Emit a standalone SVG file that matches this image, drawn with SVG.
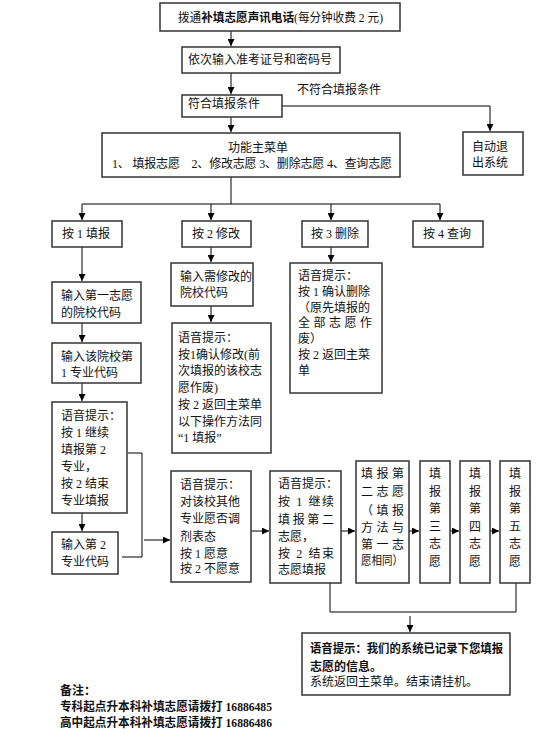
<svg xmlns="http://www.w3.org/2000/svg" width="540" height="739" viewBox="0 0 540 739">
<defs>
<marker id="ah" markerUnits="userSpaceOnUse" markerWidth="7" markerHeight="7" viewBox="0 0 10 10" refX="10" refY="5" orient="auto">
<path d="M0,0 L10,5 L0,10 z" fill="#000"/>
</marker>
<style>
.box{fill:#fff;stroke:#333;stroke-width:1.5}
.t{font-family:"Liberation Serif","Noto Sans CJK SC",serif;font-size:12px;fill:#111}
.b{font-weight:bold}
.m{text-anchor:middle}
.ln{fill:none;stroke:#000;stroke-width:1}
.ar{marker-end:url(#ah)}
</style>
</defs>
<rect width="540" height="739" fill="#fff"/>
<g id="connectors">
<path class="ln ar" d="M231,31 V46"/>
<path class="ln ar" d="M231,73 V94"/>
<path class="ln ar" d="M231,117 V132"/>
<path class="ln ar" d="M282,106 H490 V131"/>
<path class="ln" d="M231,177 V204 M82,204 H440"/>
<path class="ln ar" d="M82,204 V220"/>
<path class="ln ar" d="M211,204 V220"/>
<path class="ln ar" d="M331,204 V220"/>
<path class="ln ar" d="M440,204 V220"/>
<path class="ln ar" d="M82,247 V281"/>
<path class="ln ar" d="M82,323 V342"/>
<path class="ln ar" d="M82,383 V401"/>
<path class="ln ar" d="M82,513 V531"/>
<path class="ln" d="M128,453 H142 V557 H122"/>
<path class="ln ar" d="M144,540 H170"/>
<path class="ln ar" d="M211,247 V262"/>
<path class="ln ar" d="M211,306 V322"/>
<path class="ln ar" d="M331,247 V262"/>
<path class="ln ar" d="M251,531 H269"/>
<path class="ln ar" d="M341,531 H355"/>
<path class="ln ar" d="M409,531 H419"/>
<path class="ln ar" d="M450,531 H459"/>
<path class="ln ar" d="M490,531 H499"/>
<path class="ln" d="M330,583 V612 H516 V583"/>
<path class="ln ar" d="M410,616 V632"/>
<text class="t" x="297" y="94">不符合填报条件</text>
</g>
<g id="n-dial">
<rect class="box" x="160" y="3" width="240" height="28"/>
<text class="t" x="178" y="22" textLength="205" lengthAdjust="spacingAndGlyphs">拨通<tspan class="b">补填志愿声讯电话</tspan>(每分钟收费 2 元)</text>
</g>
<g id="n-input">
<rect class="box" x="182" y="47" width="158" height="26"/>
<text class="t" x="188" y="64">依次输入准考证号和密码号</text>
</g>
<g id="n-ok">
<rect class="box" x="182" y="95" width="100" height="22"/>
<text class="t" x="188" y="108">符合填报条件</text>
</g>
<g id="n-exit">
<rect class="box" x="463" y="132" width="60" height="43"/>
<text class="t" x="472" y="151">自动退</text>
<text class="t" x="472" y="167">出系统</text>
</g>
<g id="n-menu">
<rect class="box" x="102" y="133" width="298" height="44"/>
<text class="t m" x="258" y="152">功能主菜单</text>
<text class="t" x="112" y="168" textLength="280" lengthAdjust="spacing">1、 填报志愿　2、修改志愿 3、删除志愿 4、查询志愿</text>
</g>
<g id="n-k1">
<rect class="box" x="52" y="221" width="70" height="26"/>
<text class="t m" x="86" y="238">按 1 填报</text>
</g>
<g id="n-k2">
<rect class="box" x="182" y="221" width="69" height="26"/>
<text class="t m" x="216" y="238">按 2 修改</text>
</g>
<g id="n-k3">
<rect class="box" x="302" y="221" width="66" height="26"/>
<text class="t m" x="335" y="238">按 3 删除</text>
</g>
<g id="n-k4">
<rect class="box" x="413" y="221" width="70" height="26"/>
<text class="t m" x="447" y="238">按 4 查询</text>
</g>
<g id="n-first-school">
<rect class="box" x="52" y="282" width="89" height="41"/>
<text class="t" x="61" y="299.5">输入第一志愿</text>
<text class="t" x="61" y="316.5">的院校代码</text>
</g>
<g id="n-first-major">
<rect class="box" x="52" y="343" width="89" height="40"/>
<text class="t" x="61" y="360.5">输入该院校第</text>
<text class="t" x="61" y="376.5">1 专业代码</text>
</g>
<g id="n-prompt-major">
<rect class="box" x="52" y="402" width="75" height="111"/>
<text class="t" x="61" y="420">语音提示：</text>
<text class="t" x="61" y="437">按 1 继续</text>
<text class="t" x="61" y="454">填报第 2</text>
<text class="t" x="61" y="471">专业，</text>
<text class="t" x="61" y="488">按 2 结束</text>
<text class="t" x="61" y="505">专业填报</text>
</g>
<g id="n-second-major">
<rect class="box" x="52" y="532" width="66" height="42"/>
<text class="t" x="61" y="549">输入第 2</text>
<text class="t" x="61" y="566">专业代码</text>
</g>
<g id="n-mod-school">
<rect class="box" x="171" y="263" width="82" height="43"/>
<text class="t" x="180" y="281">输入需修改的</text>
<text class="t" x="180" y="297">院校代码</text>
</g>
<g id="n-mod-prompt">
<rect class="box" x="172" y="323" width="99" height="130"/>
<text class="t" x="178" y="342">语音提示：</text>
<text class="t" x="178" y="358.7">按1确认修改(前</text>
<text class="t" x="178" y="375.4">次填报的该校志</text>
<text class="t" x="178" y="392">愿作废)</text>
<text class="t" x="178" y="408.8">按 2 返回主菜单</text>
<text class="t" x="178" y="425.5">以下操作方法同</text>
<text class="t" x="178" y="442">“1 填报”</text>
</g>
<g id="n-del-prompt">
<rect class="box" x="290" y="263" width="92" height="130"/>
<text class="t" x="298" y="280">语音提示：</text>
<text class="t" x="298" y="296">按 1 确认删除</text>
<text class="t" x="298" y="311.5">（原先填报的</text>
<text class="t" x="298" y="327" textLength="74" lengthAdjust="spacing">全部志愿作</text>
<text class="t" x="298" y="343">废）</text>
<text class="t" x="298" y="359">按 2 返回主菜</text>
<text class="t" x="298" y="375">单</text>
</g>
<g id="n-adjust">
<rect class="box" x="171" y="471" width="80" height="111"/>
<text class="t" x="180" y="489">语音提示：</text>
<text class="t" x="180" y="506">对该校其他</text>
<text class="t" x="180" y="523">专业愿否调</text>
<text class="t" x="180" y="540.5">剂表态</text>
<text class="t" x="180" y="557.5">按 1 愿意</text>
<text class="t" x="180" y="573">按 2 不愿意</text>
</g>
<g id="n-continue">
<rect class="box" x="270" y="471" width="71" height="112"/>
<text class="t" x="278" y="488">语音提示：</text>
<text class="t" x="278" y="506" textLength="56" lengthAdjust="spacing">按 1 继续</text>
<text class="t" x="278" y="524" textLength="56" lengthAdjust="spacing">填报第二</text>
<text class="t" x="278" y="541">志愿，</text>
<text class="t" x="278" y="558" textLength="56" lengthAdjust="spacing">按 2 结束</text>
<text class="t" x="278" y="574">志愿填报</text>
</g>
<g id="n-second">
<rect class="box" x="356" y="461" width="53" height="122"/>
<text class="t" x="361" y="477.5" textLength="43" lengthAdjust="spacing">填报第</text>
<text class="t" x="361" y="496" textLength="43" lengthAdjust="spacing">二志愿</text>
<text class="t" x="361" y="514.5" textLength="43" lengthAdjust="spacing">（填报</text>
<text class="t" x="361" y="531.5" textLength="43" lengthAdjust="spacing">方法与</text>
<text class="t" x="361" y="548.5" textLength="43" lengthAdjust="spacing">第一志</text>
<text class="t" x="361" y="564.5" textLength="42" lengthAdjust="spacingAndGlyphs">愿相同）</text>
</g>
<g id="n-third">
<rect class="box" x="420" y="461" width="30" height="122"/>
<text class="t m" x="435" y="478">填</text>
<text class="t m" x="435" y="495.5">报</text>
<text class="t m" x="435" y="513">第</text>
<text class="t m" x="435" y="530.5">三</text>
<text class="t m" x="435" y="548">志</text>
<text class="t m" x="435" y="565.5">愿</text>
</g>
<g id="n-fourth">
<rect class="box" x="460" y="461" width="30" height="122"/>
<text class="t m" x="475" y="478">填</text>
<text class="t m" x="475" y="495.5">报</text>
<text class="t m" x="475" y="513">第</text>
<text class="t m" x="475" y="530.5">四</text>
<text class="t m" x="475" y="548">志</text>
<text class="t m" x="475" y="565.5">愿</text>
</g>
<g id="n-fifth">
<rect class="box" x="500" y="461" width="30" height="122"/>
<text class="t m" x="515" y="478">填</text>
<text class="t m" x="515" y="495.5">报</text>
<text class="t m" x="515" y="513">第</text>
<text class="t m" x="515" y="530.5">五</text>
<text class="t m" x="515" y="548">志</text>
<text class="t m" x="515" y="565.5">愿</text>
</g>
<g id="n-end">
<rect class="box" x="302" y="633" width="208" height="62"/>
<text class="t b" x="310" y="652.5" textLength="193" lengthAdjust="spacingAndGlyphs">语音提示：我们的系统已记录下您填报</text>
<text class="t b" x="310" y="670.5">志愿的信息。</text>
<text class="t" x="310" y="686">系统返回主菜单。结束请挂机。</text>
</g>
<g id="notes">
<text class="t b" x="60" y="695">备注：</text>
<text class="t b" x="60" y="711" textLength="212" lengthAdjust="spacingAndGlyphs">专科起点升本科补填志愿请拨打 16886485</text>
<text class="t b" x="60" y="727" textLength="212" lengthAdjust="spacingAndGlyphs">高中起点升本科补填志愿请拨打 16886486</text>
</g>
</svg>
